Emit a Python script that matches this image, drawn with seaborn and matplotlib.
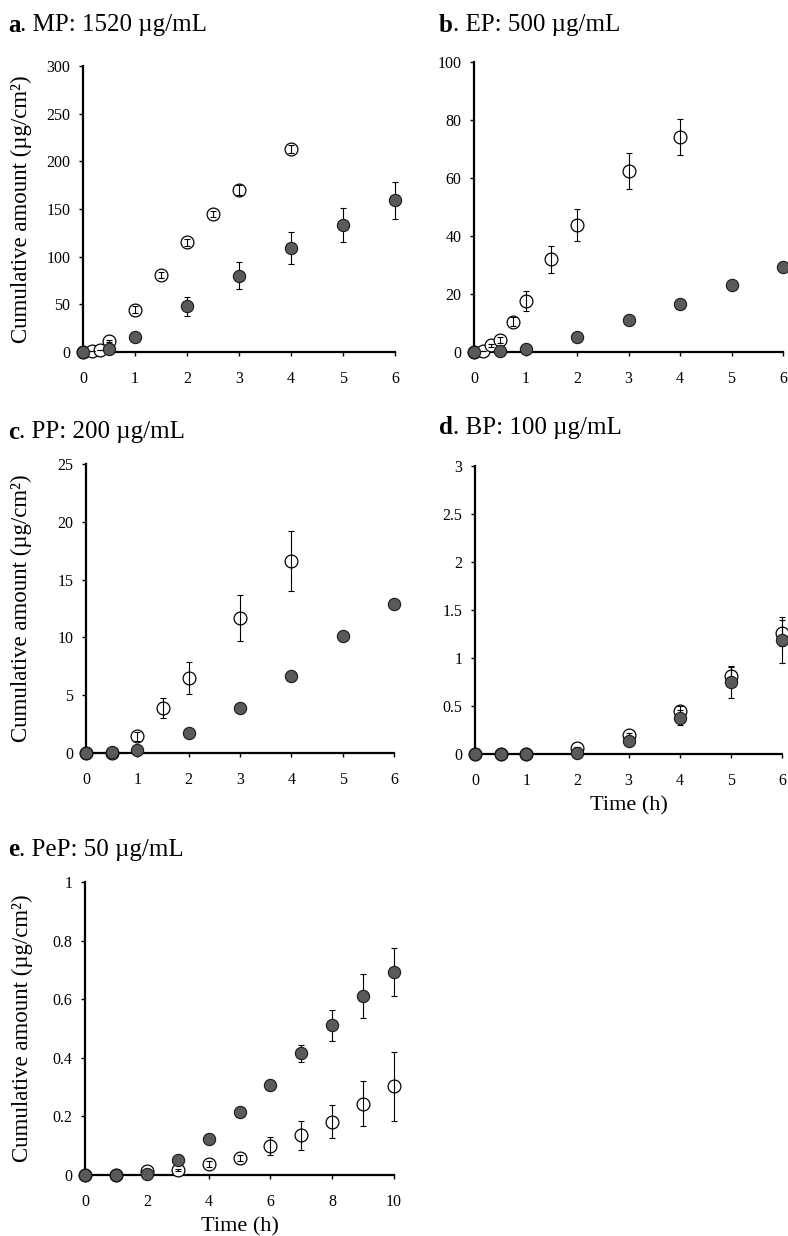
import numpy as np
import pandas as pd
import matplotlib
matplotlib.use('Agg')
import matplotlib.pyplot as plt
import seaborn as sns

sns.set_style('ticks')
plt.rcParams['font.family'] = ['Liberation Serif', 'DejaVu Serif']
plt.rcParams['text.color'] = 'black'
plt.rcParams['axes.labelcolor'] = 'black'
plt.rcParams['xtick.color'] = 'black'
plt.rcParams['ytick.color'] = 'black'
plt.rcParams['axes.edgecolor'] = 'black'

# a. MP
mp_t_open = [0, 0.167, 0.333, 0.5, 1, 1.5, 2, 2.5, 3, 4]
mp_open = [0, 1, 2, 11.5, 44.5, 81, 115, 145, 170, 213]
mp_open_err = [0, 0, 0, 1, 4, 3, 4, 3, 5, 4]
mp_t_fill = [0, 0.5, 1, 2, 3, 4, 5, 6]
mp_fill = [0, 3, 16, 48, 80, 109, 133, 159]
mp_fill_err = [0, 1, 2, 10, 14, 17, 18, 19]

# b. EP
ep_t_open = [0, 0.167, 0.333, 0.5, 0.75, 1, 1.5, 2, 3, 4]
ep_open = [0, 0.3, 2.3, 4, 10.4, 17.5, 32, 43.7, 62.4, 74]
ep_open_err = [0, 0, 0.5, 1, 1.5, 3.5, 4.7, 5.5, 6.3, 6.2]
ep_t_fill = [0, 0.5, 1, 2, 3, 4, 5, 6]
ep_fill = [0, 0.5, 1.2, 5.2, 11.2, 16.5, 23, 29.3]
ep_fill_err = [0, 0, 0.2, 0.4, 0.5, 0.6, 0.6, 0.7]

# c. PP
pp_t_open = [0, 0.5, 1, 1.5, 2, 3, 4]
pp_open = [0, 0, 1.45, 3.9, 6.5, 11.7, 16.6]
pp_open_err = [0, 0, 0.4, 0.9, 1.4, 2.0, 2.6]
pp_t_fill = [0, 0.5, 1, 2, 3, 4, 5, 6]
pp_fill = [0, 0.1, 0.3, 1.7, 3.9, 6.7, 10.1, 12.9]
pp_fill_err = [0, 0, 0.05, 0.1, 0.1, 0.1, 0.1, 0.1]

# d. BP
bp_t_open = [0, 0.5, 1, 2, 3, 4, 5, 6]
bp_open = [0, 0, 0, 0.06, 0.2, 0.45, 0.81, 1.26]
bp_open_err = [0, 0, 0, 0.01, 0.02, 0.05, 0.1, 0.14]
bp_t_fill = [0, 0.5, 1, 2, 3, 4, 5, 6]
bp_fill = [0, 0, 0, 0.01, 0.14, 0.38, 0.75, 1.19]
bp_fill_err = [0, 0, 0, 0.01, 0.02, 0.08, 0.17, 0.24]

# e. PeP
pep_t_open = [0, 1, 2, 3, 4, 5, 6, 7, 8, 9, 10]
pep_open = [0, 0, 0.015, 0.017, 0.0375, 0.059, 0.099, 0.136, 0.182, 0.244, 0.303]
pep_open_err = [0, 0, 0, 0.005, 0.01, 0.01, 0.03, 0.05, 0.057, 0.078, 0.117]
pep_t_fill = [0, 1, 2, 3, 4, 5, 6, 7, 8, 9, 10]
pep_fill = [0, 0, 0.005, 0.051, 0.123, 0.214, 0.307, 0.415, 0.511, 0.61, 0.693]
pep_fill_err = [0, 0, 0, 0.005, 0.01, 0.01, 0.01, 0.03, 0.053, 0.075, 0.082]

panels = [
    ('a', '. MP: 1520 µg/mL', mp_t_open, mp_open, mp_open_err, mp_t_fill, mp_fill, mp_fill_err,
     [0, 50, 100, 150, 200, 250, 300], [0, 1, 2, 3, 4, 5, 6]),
    ('b', '. EP: 500 µg/mL', ep_t_open, ep_open, ep_open_err, ep_t_fill, ep_fill, ep_fill_err,
     [0, 20, 40, 60, 80, 100], [0, 1, 2, 3, 4, 5, 6]),
    ('c', '. PP: 200 µg/mL', pp_t_open, pp_open, pp_open_err, pp_t_fill, pp_fill, pp_fill_err,
     [0, 5, 10, 15, 20, 25], [0, 1, 2, 3, 4, 5, 6]),
    ('d', '. BP: 100 µg/mL', bp_t_open, bp_open, bp_open_err, bp_t_fill, bp_fill, bp_fill_err,
     [0, 0.5, 1, 1.5, 2, 2.5, 3], [0, 1, 2, 3, 4, 5, 6]),
    ('e', '. PeP: 50 µg/mL', pep_t_open, pep_open, pep_open_err, pep_t_fill, pep_fill, pep_fill_err,
     [0, 0.2, 0.4, 0.6, 0.8, 1], [0, 2, 4, 6, 8, 10]),
]

W, H = 788, 1236
# axes boxes in pixels: left, right, top, bottom
boxes = [(83, 395, 66, 352), (474, 783, 62, 352), (86, 394, 464, 753),
         (475, 782, 466, 754), (85, 394, 882, 1175)]
title_pos = [(8, 25), (439, 25), (8, 432), (439, 428), (8, 850)]
ylabel_x = [32, None, 32, None, 33]
show_xlabel = [False, False, False, True, True]

fig = plt.figure(figsize=(W / 100, H / 100), dpi=100)

for i, (letter, rest, t_o, y_o, e_o, t_f, y_f, e_f, yticks, xticks) in enumerate(panels):
    l, r, t, b = boxes[i]
    ax = fig.add_axes([l / W, 1 - b / H, (r - l) / W, (b - t) / H])
    df_o = pd.DataFrame({'t': t_o, 'y': y_o})
    df_f = pd.DataFrame({'t': t_f, 'y': y_f})

    sns.scatterplot(data=df_o, x='t', y='y', ax=ax, s=85, color='white',
                    edgecolor='black', linewidth=0.9, zorder=3, clip_on=False)
    ax.errorbar(t_o, y_o, yerr=e_o, fmt='none', ecolor='black', elinewidth=0.8,
                capsize=2, capthick=0.8, zorder=4, clip_on=False)
    ax.errorbar(t_f, y_f, yerr=e_f, fmt='none', ecolor='black', elinewidth=0.8,
                capsize=2, capthick=0.8, zorder=4, clip_on=False)
    sns.scatterplot(data=df_f, x='t', y='y', ax=ax, s=78, color='#5a5a5a',
                    edgecolor='#1a1a1a', linewidth=0.8, zorder=5, clip_on=False)

    ax.set_xlim(0, xticks[-1])
    ax.set_ylim(0, yticks[-1])
    ax.set_xticks(xticks)
    ax.set_yticks(yticks)
    ax.set_xticklabels([f'{v:g}' for v in xticks])
    ax.set_yticklabels([f'{v:g}' for v in yticks])
    ax.tick_params(axis='both', labelsize=11.5, length=3, width=1, direction='out')
    ax.tick_params(axis='x', pad=11)
    ax.tick_params(axis='y', pad=6)
    sns.despine(ax=ax)
    for s in ['left', 'bottom']:
        ax.spines[s].set_linewidth(1.6)
    ax.set_ylabel('')
    ax.set_xlabel('')
    if ylabel_x[i] is not None:
        ax.set_ylabel('Cumulative amount (µg/cm²)', fontsize=16.5)
        ax.yaxis.set_label_coords((ylabel_x[i] - l) / (r - l), 0.5)
    if show_xlabel[i]:
        ax.set_xlabel('Time (h)', fontsize=16, labelpad=5)

    tx, ty = title_pos[i]
    t1 = fig.text(tx / W, 1 - ty / H, letter, fontsize=18, fontweight='bold',
                  va='center', ha='left')
    ax.annotate(rest, xy=(1, 0.5), xycoords=t1, va='center', ha='left', fontsize=18,
                annotation_clip=False)

fig.savefig('out.png', dpi=100)
